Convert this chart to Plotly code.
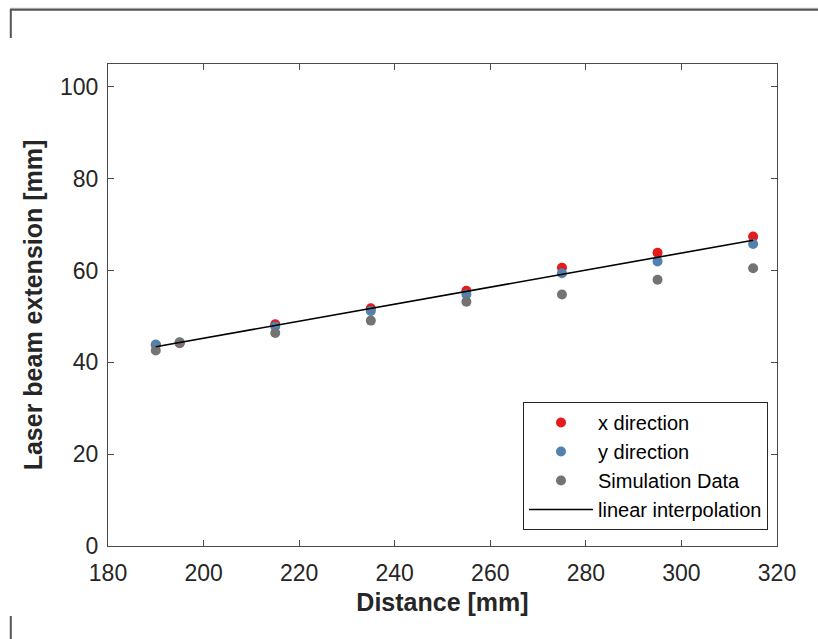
import plotly.graph_objects as go

# Measured beam extension versus distance
distance_mm = [190, 195, 215, 235, 255, 275, 295, 315]
x_direction = [43.8, 44.2, 48.3, 51.8, 55.6, 60.6, 63.9, 67.4]
y_direction = [43.9, 44.3, 47.8, 51.2, 54.8, 59.4, 62.0, 65.8]
simulation = [42.6, 44.4, 46.4, 49.1, 53.2, 54.8, 58.0, 60.5]

# End points of the fitted straight line
fit_distance = [190, 315]
fit_extension = [43.4, 66.6]

x_ticks = [180, 200, 220, 240, 260, 280, 300, 320]
y_ticks = [0, 20, 40, 60, 80, 100]

FONT = "Liberation Sans, Arial, Helvetica, sans-serif"
AX = "#262626"

fig = go.Figure()
fig.add_trace(go.Scatter(x=distance_mm, y=x_direction, mode="markers", name="x direction",
                         marker=dict(color="#E41A1C", size=10)))
fig.add_trace(go.Scatter(x=distance_mm, y=y_direction, mode="markers", name="y direction",
                         marker=dict(color="#5381AC", size=10)))
fig.add_trace(go.Scatter(x=distance_mm, y=simulation, mode="markers", name="Simulation Data",
                         marker=dict(color="#737373", size=10)))
fig.add_trace(go.Scatter(x=fit_distance, y=fit_extension, mode="lines", name="linear interpolation",
                         line=dict(color="black", width=1.6)))

axis_common = dict(showgrid=False, zeroline=False, showline=True, linecolor="#4a4a4a", linewidth=1,
                   mirror="ticks", ticks="inside", ticklen=6, tickcolor="#4a4a4a",
                   tickfont=dict(family=FONT, size=23, color=AX))

fig.update_xaxes(range=[180, 320], tickvals=x_ticks, ticklabelstandoff=6,
                 title=dict(text="<b>Distance [mm]</b>", font=dict(family=FONT, size=25, color=AX), standoff=8),
                 **axis_common)
fig.update_yaxes(range=[0, 105], tickvals=y_ticks, ticklabelstandoff=4,
                 title=dict(text="<b>Laser beam extension [mm]</b>", font=dict(family=FONT, size=25, color=AX), standoff=10),
                 **axis_common)

# Outer figure border fragments
L, T, W, H = 108, 64, 669, 482
def px(x):
    return (x - L) / W
def py(y):
    return (T + H - y) / H

shapes = [
    dict(type="line", xref="paper", yref="paper", x0=px(10), x1=px(818), y0=py(8.3), y1=py(8.3),
         line=dict(color="#b0b0b0", width=1)),
    dict(type="line", xref="paper", yref="paper", x0=px(10), x1=px(818), y0=py(9.8), y1=py(9.8),
         line=dict(color="#555555", width=2)),
    dict(type="line", xref="paper", yref="paper", x0=px(10.8), x1=px(10.8), y0=py(9), y1=py(38),
         line=dict(color="#555555", width=2)),
    dict(type="line", xref="paper", yref="paper", x0=px(10.8), x1=px(10.8), y0=py(616), y1=py(639),
         line=dict(color="#555555", width=2)),
]

fig.update_layout(
    width=818, height=639,
    margin=dict(l=L, r=818 - L - W, t=T, b=639 - T - H),
    paper_bgcolor="white", plot_bgcolor="white",
    font=dict(family=FONT, color=AX),
    shapes=shapes,
    legend=dict(x=px(768), y=py(530), xanchor="right", yanchor="bottom",
                bgcolor="white", bordercolor="#262626", borderwidth=1,
                font=dict(family=FONT, size=20, color="black"),
                itemwidth=64, tracegroupgap=0),
    showlegend=True,
)

fig.write_html("out.html", config={"displayModeBar": False})
